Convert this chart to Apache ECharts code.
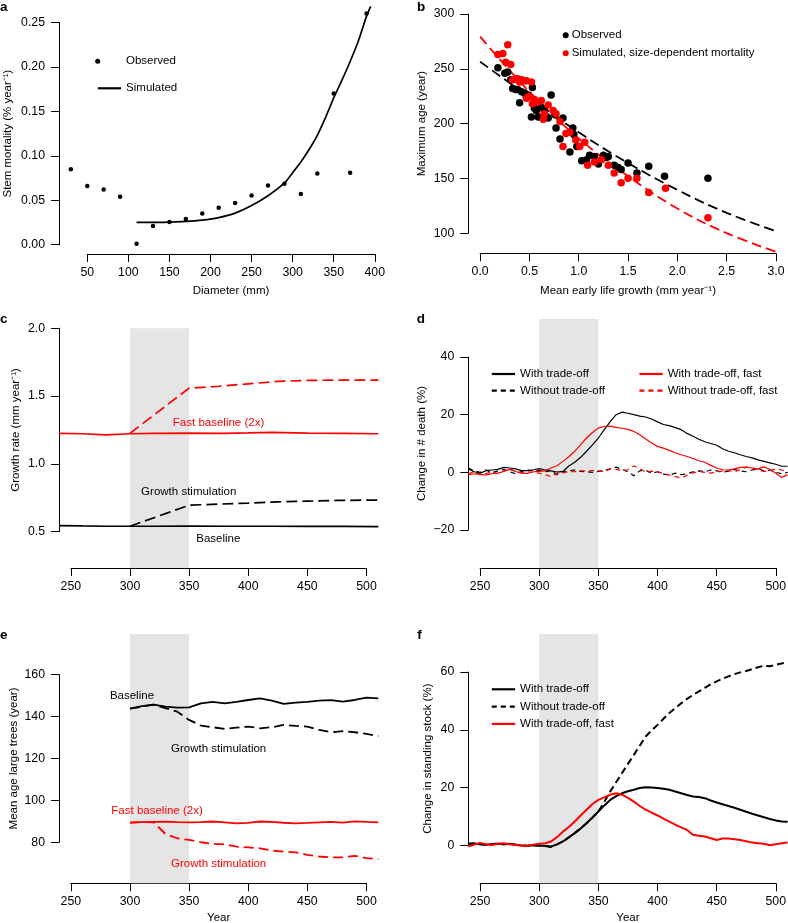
<!DOCTYPE html>
<html><head><meta charset="utf-8">
<script src="https://cdn.jsdelivr.net/npm/echarts@6/dist/echarts.min.js"></script>
<style>html,body{margin:0;padding:0;background:#fff}#c{width:788px;height:923px}</style>
</head><body><div id="c"></div><script>
// ---------- Panel a ----------
const aDiameter = [30,50,70,90,110,130,150,170,190,210,230,250,270,290,310,330,350,370,390];
const aObserved = [0.085,0.066,0.062,0.054,0.001,0.021,0.0255,0.029,0.035,0.0415,0.047,0.0555,0.0665,0.0685,0.057,0.080,0.170,0.081,0.260];
const aSimDiameter = [110,130,150,170,190,210,230,250,270,290,300,310,320,330,340,350,360,370,380,390,395];
const aSimulated = [0.0251,0.0252,0.0255,0.0262,0.0277,0.0305,0.0355,0.0440,0.0550,0.0695,0.081,0.093,0.107,0.123,0.143,0.165,0.185,0.206,0.229,0.257,0.268];
// ---------- Panel b ----------
const bObsGrowth = [0.18,0.25,0.28,0.31,0.33,0.36,0.38,0.42,0.40,0.45,0.47,0.49,0.53,0.52,0.55,0.57,0.59,0.62,0.65,0.68,0.72,0.69,0.76,0.84,0.77,0.81,0.91,0.94,0.98,0.95,1.03,1.08,1.11,1.16,1.20,1.25,1.28,1.30,1.36,1.40,1.43,1.50,1.59,1.71,1.87,2.31];
const bObsAge = [251,246,247,240,232,231,231,229,219,228,224,226,233,206,214,212,206,215,212,206,226,205,208,205,196,186,174,196,179,190,166,167,171,170,163,171,169,170,162,160,158,164,155,161,152,150];
const bSimGrowth = [0.18,0.23,0.28,0.26,0.31,0.33,0.36,0.38,0.40,0.42,0.45,0.47,0.52,0.47,0.50,0.55,0.59,0.53,0.62,0.69,0.65,0.64,0.74,0.77,0.81,0.84,0.87,0.91,0.97,1.01,1.06,1.09,1.16,1.23,1.30,1.36,1.43,1.50,1.59,1.71,1.88,2.31];
const bSimAge = [263,264,272,256,254,240,241,241,238,240,239,239,238,223,225,222,220,218,221,217,209,204,212,209,202,179,191,192,185,179,183,162,165,167,162,155,146,150,150,137,141,114];
const bFitGrowth = [0,0.5,1.0,1.5,2.0,2.5,3.0];
const bFitObserved = [256.5,224,192,164,139.5,118.5,101.8];
const bFitSimulated = [279.3,229,186.5,152,122.5,100,83];
// ---------- Panel c ----------
const cBaseYears = [240,260,280,300,320,350,380,400,420,450,480,510];
const cBaseline = [0.545,0.542,0.540,0.540,0.540,0.541,0.540,0.540,0.540,0.539,0.539,0.537];
const cFastBaseline = [1.225,1.222,1.214,1.222,1.224,1.226,1.225,1.228,1.232,1.226,1.224,1.222];
const cStimYears = [300,350,375,400,425,450,475,510];
const cStim = [0.540,0.695,0.703,0.711,0.720,0.725,0.730,0.733];
const cFastStim = [1.225,1.558,1.572,1.590,1.608,1.615,1.618,1.617];
// ---------- Panel d ----------
const dYears = [240,245,250,255,260,265,270,275,280,285,290,295,300,305,310,315,320,325,330,335,340,345,350,355,360,365,370,375,380,385,390,395,400,405,410,415,420,425,430,435,440,445,450,455,460,465,470,475,480,485,490,495,500,505,510];
const dWith = [1.2,0.2,-0.3,0.6,0.8,1.0,1.7,1.5,1.2,0.6,0.6,0.9,1.3,0.8,0.5,0.1,0.3,2.2,3.5,5.2,7.3,9.5,11.9,14.8,17.6,20.0,20.9,20.5,20.0,19.5,19.2,18.5,17.5,16.6,16.2,15.5,14.8,13.5,12.5,11.5,10.6,10.0,9.4,8.2,7.3,6.8,6.1,5.5,5.0,4.3,3.8,3.3,2.8,2.1,2.1];
const dWithout = [1.5,0.5,0.0,0.8,-0.2,0.5,1.0,0.2,-0.5,0.3,0.8,0.5,0.7,0.2,0.5,-0.8,0.2,0.5,0.8,0.3,0.2,0.0,0.3,0.6,1.2,1.8,1.0,0.2,-1.2,0.5,0.8,-0.4,0.2,-0.6,-1.0,-0.3,-0.8,-0.5,0.2,0.5,0.2,0.8,0.5,0.0,0.4,1.0,0.5,0.2,0.8,1.2,0.5,0.8,0.0,-0.5,0.0];
const dWithFast = [-0.9,-0.5,-0.7,-0.9,-0.5,-0.3,0.3,1.0,0.3,-0.3,-0.4,0.2,0.3,0.6,1.5,2.3,3.8,5.4,7.3,9.6,11.9,13.8,15.4,15.9,16.0,15.6,15.3,14.9,14.2,13.0,11.6,10.2,9.0,8.4,7.6,6.8,6.1,5.5,4.8,4.0,3.5,2.4,1.5,0.9,0.8,1.2,1.7,1.8,1.5,1.2,1.9,1.0,-0.3,-1.8,-0.9];
const dWithoutFast = [-0.5,0.2,-0.8,-0.4,0.2,-0.5,0.5,1.2,0.4,-0.2,0.2,0.0,-0.3,-0.8,-1.5,-0.5,-0.2,0.3,0.2,0.6,0.4,0.6,0.5,0.2,1.2,1.0,0.5,0.9,2.2,1.3,0.0,0.4,0.2,-0.4,-1.0,-1.5,-2.0,-1.0,-0.2,0.3,0.0,-0.3,0.2,0.4,0.6,0.2,0.9,1.8,1.5,0.8,0.3,0.6,1.2,0.8,0.3];
// ---------- Panel e ----------
const eYears = [300,310,320,330,340,350,360,370,380,390,400,410,420,430,440,450,460,470,480,490,500,510];
const eBaseline = [143.8,145.0,145.7,144.7,144.3,144.4,146.3,147.0,146.3,147.0,147.9,148.7,147.6,146.0,146.6,147.0,147.6,147.8,147.1,147.9,149.0,148.7];
const eStim = [143.8,144.7,145.7,144.0,142.3,138.4,135.7,134.9,134.1,134.7,135.2,134.4,134.9,136.0,135.5,135.2,133.6,132.5,133.0,132.5,131.7,130.7];
const eFastBaseline = [89.4,89.6,89.7,89.8,89.6,89.5,89.6,89.9,89.5,89.0,89.2,89.9,89.7,89.3,89.0,89.2,89.5,89.7,89.4,90.0,89.7,89.5];
const eFastStim = [89.4,89.6,89.5,84.0,81.9,81.1,80.0,79.2,79.0,77.9,77.5,77.1,76.0,75.5,75.2,74.0,73.2,72.8,72.8,73.5,72.4,71.9];
// ---------- Panel f ----------
const fYears = dYears;
const fWith = [0.5,0.6,0.3,0.2,0.4,0.5,0.3,0.5,0.2,-0.1,-0.2,0.0,-0.1,-0.3,-0.5,0.3,1.3,2.7,4.2,5.8,7.6,9.6,11.7,13.8,15.7,17.0,18.0,18.7,19.2,19.8,20.1,20.0,19.8,19.6,19.2,18.6,18.0,17.4,16.9,16.7,16.3,15.5,14.8,14.2,13.6,13.0,12.3,11.6,10.9,10.3,9.7,9.1,8.6,8.2,8.1];
const fWithout = [0.5,0.6,0.3,0.2,0.4,0.5,0.3,0.5,0.2,-0.1,-0.2,0.0,-0.1,-0.3,-0.5,0.3,1.3,2.7,4.2,5.8,7.6,9.6,11.7,15.0,18.6,21.8,25.0,28.2,31.3,34.5,37.7,39.8,41.7,43.8,45.8,47.5,49.2,50.7,52.1,53.3,54.5,55.8,56.8,57.7,58.5,59.3,59.9,60.4,61.0,61.7,62.2,62.0,62.5,63.0,63.4];
const fWithFast = [-0.5,0.2,0.8,0.3,0.1,0.5,0.7,0.3,0.1,-0.1,-0.2,0.2,0.5,0.7,1.3,2.8,4.7,6.3,8.2,10.3,12.3,14.3,15.7,16.6,17.5,18.0,17.5,16.4,15.1,13.6,12.3,11.3,10.3,9.2,8.2,7.1,6.2,5.3,3.6,3.3,3.0,2.4,1.8,2.3,2.3,2.1,1.8,1.4,0.9,0.7,0.5,0.0,0.3,0.7,0.9];

// ---------- helpers ----------
const FONT = '"Liberation Sans", Arial, Helvetica, sans-serif';
const FS = 11.5;
const TFS = 12.3;
const RED = '#ff0000', BLK = '#000000', GRAY = '#e5e5e5';
const grids = [], xAxes = [], yAxes = [], series = [], legends = [], titles = [];
const zip = (xs, ys) => xs.map((x, i) => [x, ys[i]]);
const txt = {color: '#000', fontSize: FS, fontFamily: FONT};
const tickTxt = {color: '#000', fontSize: TFS, fontFamily: FONT};

function addPanel(p) {
  const gi = grids.length;
  grids.push({left: p.L, top: p.T, width: p.R - p.L, height: p.B - p.T, outerBoundsMode: 'none'});
  xAxes.push({gridIndex: gi, type: 'value', min: p.x0, max: p.x1, show: false});
  yAxes.push({gridIndex: gi, type: 'value', min: p.y0, max: p.y1, show: false});
  const px = v => p.L + (v - p.x0) / (p.x1 - p.x0) * (p.R - p.L);
  const py = v => p.B - (v - p.y0) / (p.y1 - p.y0) * (p.B - p.T);
  const l = px(p.xt[0]), r = px(p.xt[1]), t = py(p.yt[1]), b = py(p.yt[0]);
  const gb = grids.length;
  grids.push({left: l, top: t, width: r - l, height: b - t, outerBoundsMode: 'none'});
  const line = {show: true, onZero: false, lineStyle: {color: '#000', width: 1}};
  const tick = {show: true, length: 8, inside: false, lineStyle: {color: '#000', width: 1}};
  xAxes.push({gridIndex: gb, type: 'value', position: 'bottom', min: p.xt[0], max: p.xt[1], interval: p.xt[2],
    offset: p.B - b, axisLine: line, axisTick: tick, splitLine: {show: false},
    axisLabel: Object.assign({margin: 12.5, formatter: p.xf}, tickTxt),
    name: p.xName || '', nameLocation: 'middle', nameGap: p.xGap || 30, nameTextStyle: txt});
  yAxes.push({gridIndex: gb, type: 'value', position: 'left', min: p.yt[0], max: p.yt[1], interval: p.yt[2],
    offset: l - p.L, axisLine: line, axisTick: tick, splitLine: {show: false},
    axisLabel: Object.assign({margin: 14, formatter: p.yf}, tickTxt),
    name: p.yName, nameLocation: 'middle', nameGap: p.yGap, nameTextStyle: txt});
  return gi;
}
function lineS(gi, name, xs, ys, color, width, dash, extra) {
  series.push(Object.assign({type: 'line', name: name, xAxisIndex: gi, yAxisIndex: gi, data: zip(xs, ys),
    symbol: 'none', showSymbol: false, smooth: false, silent: true, z: 3,
    lineStyle: {color: color, width: width, type: dash || 'solid'}, itemStyle: {color: color}}, extra || {}));
}
function scatterS(gi, name, xs, ys, color, size) {
  series.push({type: 'scatter', name: name, xAxisIndex: gi, yAxisIndex: gi, data: zip(xs, ys),
    symbol: 'circle', symbolSize: size, silent: true, z: 4, itemStyle: {color: color, opacity: 1}});
}
function note(items) {
  return {symbol: 'circle', symbolSize: 1, silent: true, itemStyle: {color: 'rgba(0,0,0,0)'},
    label: {show: true, position: 'inside', fontSize: FS, fontFamily: FONT},
    data: items.map(it => ({coord: it.c, label: {formatter: it.t, color: it.col || '#000'}}))};
}
function legend(o) {
  legends.push(Object.assign({show: true, selectedMode: false, orient: 'vertical', itemWidth: 23.3, itemHeight: 14, itemGap: 3,
    padding: 0, formatter: n => n.split('|')[1],
    textStyle: {color: '#000', fontSize: FS, fontFamily: FONT, lineHeight: 14}}, o));
}
function label(t, left, top) {
  titles.push({text: t, left: left, top: top, padding: 0, textStyle: {fontSize: 13.5, fontWeight: 'bold', color: '#000', fontFamily: FONT}});
}

// ---------- panel a ----------
const ga = addPanel({L: 59, T: 4.2, R: 378.4, B: 254, x0: 15.6, x1: 404.4, y0: -0.0104, y1: 0.2704,
  xt: [50, 400, 50], yt: [0, 0.25, 0.05], xf: v => String(v), yf: v => v.toFixed(2),
  xName: 'Diameter (mm)', xGap: 31, yName: 'Stem mortality (% year\u207B\u00B9)', yGap: 45});
scatterS(ga, 'a|Observed', aDiameter, aObserved, BLK, 4.5);
lineS(ga, 'a|Simulated', aSimDiameter, aSimulated, BLK, 1.7, 'solid', {smooth: 0.3});
legend({left: 95.2, top: 54.3, itemWidth: 5, data: [{name: 'a|Observed', icon: 'circle'}],
  textStyle: {color: '#000', fontSize: FS, fontFamily: FONT, lineHeight: 14, padding: [0, 0, 0, 20.8]}});
legend({left: 96.7, top: 81.3, data: ['a|Simulated'], itemStyle: {opacity: 0}, lineStyle: {width: 2.2}});
label('a', 0, 0.5);

// ---------- panel b ----------
const gbp = addPanel({L: 468.3, T: 4.8, R: 787.8, B: 253.3, x0: -0.12, x1: 3.12, y0: 81.6, y1: 308.4,
  xt: [0, 3, 0.5], yt: [100, 300, 50], xf: v => v.toFixed(1), yf: v => String(v),
  xName: 'Mean early life growth (mm year\u207B\u00B9)', xGap: 32, yName: 'Maximum age (year)', yGap: 40});
lineS(gbp, 'b|fitObs', bFitGrowth, bFitObserved, BLK, 1.8, [10, 5], {smooth: 0.4, z: 2});
lineS(gbp, 'b|fitSim', bFitGrowth, bFitSimulated, RED, 1.8, [10, 5], {smooth: 0.4, z: 2});
scatterS(gbp, 'b|Observed', bObsGrowth, bObsAge, BLK, 7.5);
scatterS(gbp, 'b|Simulated, size-dependent mortality', bSimGrowth, bSimAge, RED, 7.5);
legend({left: 562.7, top: 28.3, itemWidth: 6, itemGap: 4,
  data: [{name: 'b|Observed', icon: 'circle'}, {name: 'b|Simulated, size-dependent mortality', icon: 'circle'}],
  textStyle: {color: '#000', fontSize: FS, fontFamily: FONT, lineHeight: 14, padding: [0, 0, 0, -2]}});
label('b', 417, 0.5);

// ---------- panel c ----------
const gc = addPanel({L: 59, T: 319, R: 378.3, B: 568, x0: 240, x1: 510, y0: 0.232, y1: 2.068,
  xt: [250, 500, 50], yt: [0.5, 2, 0.5], xf: v => String(v), yf: v => v.toFixed(1),
  yName: 'Growth rate (mm year\u207B\u00B9)', yGap: 36.7});
lineS(gc, 'c|Baseline', cBaseYears, cBaseline, BLK, 1.7, 'solid', {
  markArea: {silent: true, itemStyle: {color: GRAY}, data: [[{xAxis: 300, yAxis: 0.232}, {xAxis: 350, yAxis: 2.0}]]},
  markPoint: note([{c: [374.7, 0.444], t: 'Baseline'}, {c: [349.7, 0.790], t: 'Growth stimulation'}])});
lineS(gc, 'c|Fast baseline', cBaseYears, cFastBaseline, RED, 1.7, 'solid', {
  markPoint: note([{c: [374.9, 1.299], t: 'Fast baseline (2x)', col: RED}])});
lineS(gc, 'c|Stim', cStimYears, cStim, BLK, 1.7, [11, 5]);
lineS(gc, 'c|Fast stim', cStimYears, cFastStim, RED, 1.7, [11, 5]);
label('c', 0, 311.8);

// ---------- panel d ----------
const gd = addPanel({L: 468.3, T: 319, R: 787.6, B: 568, x0: 240, x1: 510, y0: -33.2, y1: 53.2,
  xt: [250, 500, 50], yt: [-20, 40, 20], xf: v => String(v), yf: v => (v < 0 ? '\u2212' + Math.abs(v) : String(v)),
  yName: 'Change in # death (%)', yGap: 40});
lineS(gd, 'd|Without trade-off', dYears, dWithout, BLK, 1.2, [5, 4], {
  markArea: {silent: true, itemStyle: {color: GRAY}, data: [[{xAxis: 300}, {xAxis: 350}]]}});
lineS(gd, 'd|Without trade-off, fast', dYears, dWithoutFast, RED, 1.2, [5, 4]);
lineS(gd, 'd|With trade-off', dYears, dWith, BLK, 1.2);
lineS(gd, 'd|With trade-off, fast', dYears, dWithFast, RED, 1.2);
legend({left: 490.7, top: 367, itemGap: 2.7, data: ['d|With trade-off', 'd|Without trade-off'], itemStyle: {opacity: 0}, lineStyle: {width: 2.2}});
legend({left: 638.3, top: 367, itemGap: 2.7, data: ['d|With trade-off, fast', 'd|Without trade-off, fast'], itemStyle: {opacity: 0}, lineStyle: {width: 2.2}});
label('d', 416.7, 311.8);

// ---------- panel e ----------
const ge = addPanel({L: 59, T: 634, R: 378.3, B: 883.3, x0: 240, x1: 510, y0: 60.4, y1: 179.4,
  xt: [250, 500, 50], yt: [80, 160, 20], xf: v => String(v), yf: v => String(v),
  xName: 'Year', xGap: 28.5, yName: 'Mean age large trees (year)', yGap: 39.5});
lineS(ge, 'e|Baseline', eYears, eBaseline, BLK, 1.8, 'solid', {
  markArea: {silent: true, itemStyle: {color: GRAY}, data: [[{xAxis: 300}, {xAxis: 350}]]},
  markPoint: note([{c: [301.7, 150.1], t: 'Baseline'}, {c: [375, 124.5], t: 'Growth stimulation'},
    {c: [322.9, 95.1], t: 'Fast baseline (2x)', col: RED}, {c: [375, 69.5], t: 'Growth stimulation', col: RED}])});
lineS(ge, 'e|Stim', eYears, eStim, BLK, 1.8, [10, 5]);
lineS(ge, 'e|Fast baseline', eYears, eFastBaseline, RED, 1.8);
lineS(ge, 'e|Fast stim', eYears, eFastStim, RED, 1.8, [10, 5]);
label('e', 0, 627.8);

// ---------- panel f ----------
const gf = addPanel({L: 468.3, T: 634, R: 787.6, B: 883.3, x0: 240, x1: 510, y0: -13.2, y1: 73.2,
  xt: [250, 500, 50], yt: [0, 60, 20], xf: v => String(v), yf: v => String(v),
  xName: 'Year', xGap: 28.5, yName: 'Change in standing stock (%)', yGap: 34.5});
lineS(gf, 'f|With trade-off', fYears, fWith, BLK, 2, 'solid', {
  markArea: {silent: true, itemStyle: {color: GRAY}, data: [[{xAxis: 300}, {xAxis: 350}]]}});
lineS(gf, 'f|Without trade-off', fYears, fWithout, BLK, 2, [7, 4]);
lineS(gf, 'f|With trade-off, fast', fYears, fWithFast, RED, 2);
legend({left: 490.7, top: 682.3, itemGap: 3.3, itemStyle: {opacity: 0}, lineStyle: {width: 2.2},
  data: ['f|With trade-off', {name: 'f|Without trade-off', lineStyle: {type: [5, 4]}}, 'f|With trade-off, fast']});
label('f', 417.3, 627.8);

const chart = echarts.init(document.getElementById('c'), null, {renderer: 'canvas'});
chart.setOption({
  animation: false,
  backgroundColor: '#ffffff',
  textStyle: {fontFamily: FONT},
  title: titles, grid: grids, xAxis: xAxes, yAxis: yAxes, legend: legends, series: series
});
</script></body></html>
